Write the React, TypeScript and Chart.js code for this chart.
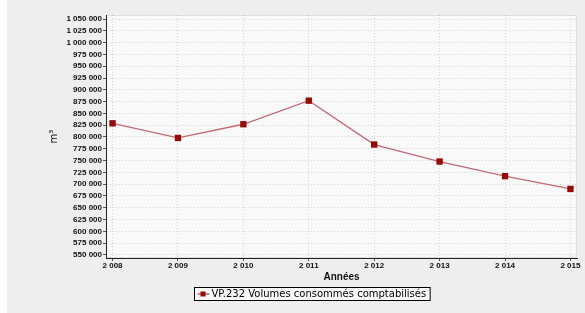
import React, { useEffect, useRef } from "react";
import { Chart, registerables } from "chart.js";

Chart.register(...registerables);

const years = [2008, 2009, 2010, 2011, 2012, 2013, 2014, 2015];
const volumes = [829000, 798000, 827000, 877000, 784000, 748000, 717000, 690000];
const yTicks = [
  550000, 575000, 600000, 625000, 650000, 675000, 700000, 725000, 750000, 775000,
  800000, 825000, 850000, 875000, 900000, 925000, 950000, 975000, 1000000, 1025000, 1050000,
];
const seriesLabel = "VP.232 Volumes consommés comptabilisés";
const xTitle = "Années";
const yTitle = "m³";

const fmt = (v: number) => String(Math.round(v)).replace(/\B(?=(\d{3})+(?!\d))/g, " ");

const plotBg = {
  id: "plotBg",
  beforeDraw(chart: any) {
    const { ctx, chartArea: a } = chart;
    ctx.save();
    ctx.fillStyle = "#f9f9f9";
    ctx.fillRect(a.left, a.top, a.right - a.left, a.bottom - a.top);
    ctx.strokeStyle = "rgba(0,0,0,0.1)";
    ctx.lineWidth = 1;
    ctx.strokeRect(a.left + 0.5, a.top + 0.5, a.right - a.left - 1, a.bottom - a.top - 1);
    ctx.restore();
  },
};

const boxLegend = {
  id: "boxLegend",
  afterDraw(chart: any) {
    const { ctx } = chart;
    const ds = chart.data.datasets[0];
    ctx.save();
    ctx.font = "10px 'DejaVu Sans'";
    const tw = ctx.measureText(ds.label).width;
    const w = tw + 21;
    const h = 13;
    const cx = 305;
    const x = Math.round(cx - w / 2) + 0.5;
    const y = 287.5;
    ctx.fillStyle = "#f8f8f8";
    ctx.fillRect(x, y, w, h);
    ctx.strokeStyle = "#000";
    ctx.lineWidth = 1;
    ctx.strokeRect(x, y, w, h);
    ctx.strokeStyle = "#c06474";
    ctx.lineWidth = 1.5;
    ctx.beginPath();
    ctx.moveTo(x + 3, y + h / 2);
    ctx.lineTo(x + 15, y + h / 2);
    ctx.stroke();
    ctx.fillStyle = "#960a0a";
    ctx.fillRect(x + 6, y + h / 2 - 2.5, 5, 5);
    ctx.fillStyle = "#000";
    ctx.textBaseline = "middle";
    ctx.fillText(ds.label, x + 17, y + h / 2 + 0.5);
    ctx.restore();
  },
};

export default function App() {
  const ref = useRef<HTMLCanvasElement>(null);
  useEffect(() => {
    if (!ref.current) return;
    const chart = new Chart(ref.current, {
      type: "line",
      data: {
        datasets: [
          {
            label: seriesLabel,
            data: years.map((y, i) => ({ x: y, y: volumes[i] })),
            borderColor: "#c26878",
            borderWidth: 1.3,
            pointStyle: "rect",
            pointRadius: 4.5,
            pointBackgroundColor: "#960a0a",
            pointBorderColor: "#960a0a",
            pointBorderWidth: 0,
            tension: 0,
          },
        ],
      },
      options: {
        animation: false,
        responsive: false,
        layout: { padding: { left: 0, right: 8, top: 15, bottom: 0 } },
        plugins: { legend: { display: false }, tooltip: { enabled: false } },
        scales: {
          x: {
            type: "linear",
            min: 2007.9,
            max: 2015.1,
            afterBuildTicks: (s: any) => {
              s.ticks = years.map((v) => ({ value: v }));
            },
            afterFit: (s: any) => {
              s.height = 55;
            },
            ticks: {
              autoSkip: false,
              maxRotation: 0,
              padding: 0,
              color: "#111",
              font: { family: "'Liberation Sans'", size: 8, weight: "bold" },
              callback: (v: any) => fmt(v),
            },
            grid: {
              color: "rgba(0,0,0,0.14)",
              tickColor: "#555",
              tickLength: 3,
              lineWidth: 1,
            },
            border: { display: true, color: "#222", width: 1, dash: [1, 2] },
            title: {
              display: true,
              text: xTitle,
              color: "#111",
              font: { family: "'Liberation Sans'", size: 10, weight: "bold" },
              padding: { top: 30, bottom: 30 },
            },
          },
          y: {
            type: "linear",
            min: 543600,
            max: 1058500,
            afterBuildTicks: (s: any) => {
              s.ticks = yTicks.map((v) => ({ value: v }));
            },
            afterFit: (s: any) => {
              s.width = 99;
            },
            ticks: {
              autoSkip: false,
              padding: 1,
              color: "#111",
              font: { family: "'Liberation Sans'", size: 8, weight: "bold" },
              callback: (v: any) => fmt(v),
            },
            grid: {
              color: "rgba(0,0,0,0.14)",
              tickColor: "#555",
              tickLength: 3,
              lineWidth: 1,
            },
            border: { display: true, color: "#222", width: 1, dash: [1, 2] },
            title: {
              display: true,
              text: yTitle,
              color: "#111",
              font: { family: "'DejaVu Sans'", size: 10 },
              padding: { top: 41, bottom: 41 },
            },
          },
        },
      },
      plugins: [plotBg, boxLegend],
    });
    return () => chart.destroy();
  }, []);
  return (
    <div
      style={{
        position: "absolute",
        left: 7,
        top: 0,
        width: 578,
        height: 313,
        background: "#eeeeee",
      }}
    >
      <canvas ref={ref} width={578} height={313} style={{ display: "block" }} />
    </div>
  );
}
